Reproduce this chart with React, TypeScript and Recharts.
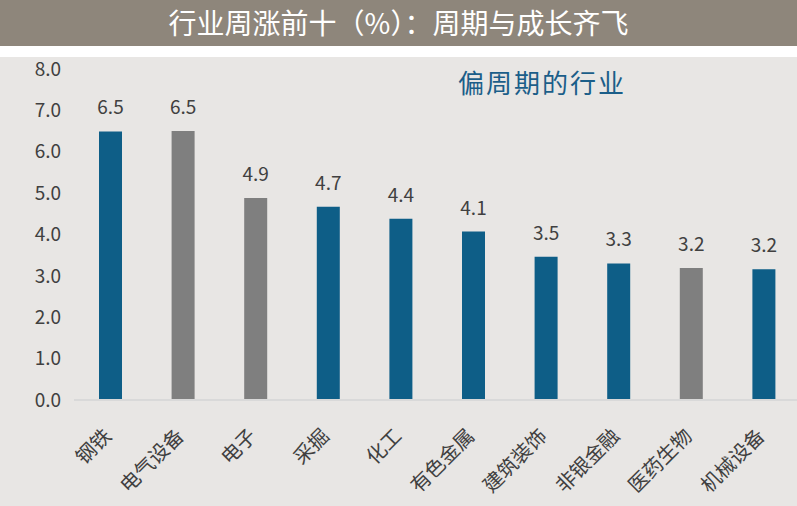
import { BarChart, Bar, XAxis, YAxis, Cell, LabelList } from "recharts";

const industries = ["钢铁", "电气设备", "电子", "采掘", "化工", "有色金属", "建筑装饰", "非银金融", "医药生物", "机械设备"];
const weeklyGain = [6.49, 6.5, 4.88, 4.67, 4.38, 4.07, 3.46, 3.3, 3.19, 3.16];
// true = 偏周期 (蓝色)
const cyclical = [true, false, false, true, true, true, true, true, false, true];
const yTicks = [0, 1, 2, 3, 4, 5, 6, 7, 8];

const BLUE = "#0e5e87";
const GRAY = "#7f7f7f";
const FONT = "'Noto Sans CJK SC', 'Noto Sans', sans-serif";

const data = industries.map((name, i) => ({ name, value: weeklyGain[i], cyc: cyclical[i] }));

function CategoryTick(props: any) {
  const { x, y, payload } = props;
  return (
    <g transform={`translate(${x - 2},${y + 25})`}>
      <text
        transform="rotate(-45)"
        textAnchor="end"
        dy={6}
        fontSize={20}
        fill="#404040"
        fontFamily={FONT}
      >
        {payload.value}
      </text>
    </g>
  );
}

export default function App() {
  return (
    <div style={{ width: 797, height: 506, position: "relative", background: "#fff", overflow: "hidden", fontFamily: FONT }}>
      <style>{`body{margin:0}`}</style>
      <div
        style={{
          height: 46,
          background: "#8e867b",
          color: "#fff",
          fontSize: 28,
          lineHeight: "44px",
          textAlign: "center",
        }}
      >
        行业周涨前十（%）：周期与成长齐飞
      </div>
      <div style={{ position: "absolute", left: 0, top: 57, width: 797, height: 449, background: "#e8e6e4" }} />
      <div style={{ position: "absolute", left: 0, top: 47, width: 797, height: 459, overflow: "hidden" }}>
        <BarChart width={800} height={459} data={data} margin={{ top: 22, right: 0, left: 0, bottom: 0 }}>
          <XAxis
            dataKey="name"
            interval={0}
            height={106}
            tickLine={false}
            axisLine={{ stroke: "#d9d9d9", strokeWidth: 2 }}
            tick={<CategoryTick />}
          />
          <YAxis
            width={74}
            domain={[0, 8]}
            ticks={yTicks}
            axisLine={false}
            tickLine={false}
            tickMargin={7}
            tickFormatter={(v: number) => v.toFixed(1)}
            tick={{ fontSize: 19, fill: "#404040", fontFamily: FONT }}
          />
          <Bar dataKey="value" barSize={23} isAnimationActive={false}>
            {data.map((d, i) => (
              <Cell key={i} fill={d.cyc ? BLUE : GRAY} />
            ))}
            <LabelList
              dataKey="value"
              position="top"
              offset={17}
              formatter={(v: any) => Number(v).toFixed(1)}
              style={{ fontSize: 19, fill: "#404040", fontFamily: FONT }}
            />
          </Bar>
        </BarChart>
      </div>
      <div style={{ position: "absolute", left: 458, top: 65, fontSize: 26, color: "#1b5e89", letterSpacing: 2, lineHeight: "34px" }}>
        偏周期的行业
      </div>
    </div>
  );
}
